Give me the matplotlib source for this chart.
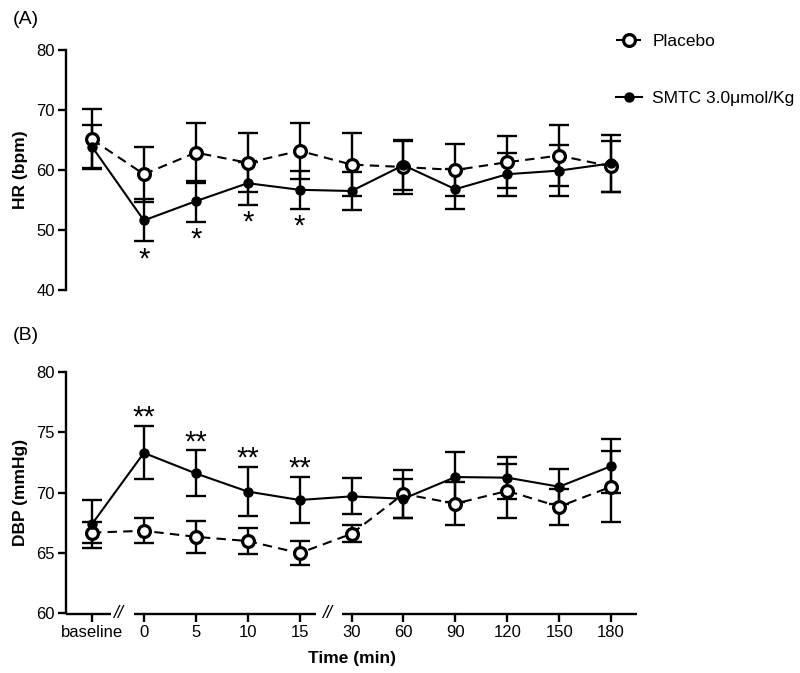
import matplotlib
matplotlib.use("Agg")
import matplotlib.pyplot as plt
import matplotlib.transforms as mtransforms
from matplotlib.lines import Line2D

plt.rcParams['font.family'] = ['Liberation Sans', 'DejaVu Sans']

# ---------------- data ----------------
time_labels = ["baseline", "0", "5", "10", "15", "30", "60", "90", "120", "150", "180"]

hr_placebo = [65.1, 59.3, 62.9, 61.2, 63.2, 60.9, 60.5, 60.0, 61.3, 62.4, 60.6]
hr_placebo_err = [5.0, 4.6, 5.0, 4.9, 4.7, 5.3, 4.5, 4.4, 4.3, 5.1, 4.2]
hr_smtc = [63.9, 51.6, 54.8, 57.8, 56.7, 56.5, 60.8, 56.8, 59.3, 59.9, 61.1]
hr_smtc_err = [3.6, 3.5, 3.4, 3.6, 3.2, 3.2, 4.1, 3.3, 3.6, 4.2, 4.7]
hr_sig = ["", "*", "*", "*", "*", "", "", "", "", "", ""]

dbp_placebo = [66.7, 66.85, 66.35, 66.0, 65.0, 66.6, 69.9, 69.1, 70.15, 68.85, 70.5]
dbp_placebo_err = [0.9, 1.05, 1.3, 1.05, 1.0, 0.7, 2.0, 1.8, 2.2, 1.5, 2.95]
dbp_smtc = [67.4, 73.3, 71.6, 70.1, 69.4, 69.7, 69.5, 71.3, 71.25, 70.5, 72.2]
dbp_smtc_err = [2.0, 2.2, 1.9, 2.0, 1.9, 1.5, 1.6, 2.05, 1.75, 1.45, 2.25]
dbp_sig = ["", "**", "**", "**", "**", "", "", "", "", "", ""]

x = list(range(len(time_labels)))

W, H = 800, 673
fig = plt.figure(figsize=(W / 100, H / 100), dpi=100)

ax_left = 66 / W
ax_w = (637 - 66) / W
axA = fig.add_axes([ax_left, 1 - 290 / H, ax_w, (290 - 50) / H])
axB = fig.add_axes([ax_left, 1 - 613.5 / H, ax_w, (613.5 - 372) / H])

LW = 1.7
DLW = 1.5
FS = 12

def draw(ax, pl, ple, sm, sme):
    ax.errorbar(x, pl, yerr=ple, fmt='none', ecolor='black', elinewidth=LW,
                capsize=7, capthick=LW, zorder=3)
    ax.errorbar(x, sm, yerr=sme, fmt='none', ecolor='black', elinewidth=LW,
                capsize=7, capthick=LW, zorder=3)
    ax.plot(x, pl, color='black', lw=DLW, linestyle=(0, (4.5, 3)), marker='o',
            markersize=8.5, markerfacecolor='white', markeredgecolor='black',
            markeredgewidth=2.3, zorder=4)
    ax.plot(x, sm, color='black', lw=DLW, linestyle='-', marker='o',
            markersize=6.5, markerfacecolor='black', markeredgecolor='black',
            zorder=5)

draw(axA, hr_placebo, hr_placebo_err, hr_smtc, hr_smtc_err)
draw(axB, dbp_placebo, dbp_placebo_err, dbp_smtc, dbp_smtc_err)

for ax in (axA, axB):
    ax.set_xlim(-0.5, 10.5)
    for s in ('top', 'right'):
        ax.spines[s].set_visible(False)
    ax.spines['left'].set_linewidth(LW)
    ax.tick_params(axis='y', direction='out', length=6, width=LW, labelsize=FS, pad=2)

# Panel A
axA.set_ylim(40, 80)
axA.set_yticks([40, 50, 60, 70, 80])
axA.spines['bottom'].set_visible(False)
axA.set_xticks([])
axA.set_ylabel("HR (bpm)", fontsize=12.5, fontweight='bold')
axA.yaxis.set_label_coords(-0.0665, 0.5)
for xi, lo, s in zip(x, [a - b for a, b in zip(hr_smtc, hr_smtc_err)], hr_sig):
    if s:
        axA.annotate(s, (xi, lo), xytext=(0, -13), textcoords='offset points',
                     ha='center', va='center', fontsize=21)

# Panel B
axB.set_ylim(60, 80)
axB.set_yticks([60, 65, 70, 75, 80])
axB.spines['bottom'].set_visible(False)
axB.set_xticks(x)
axB.set_xticklabels(time_labels)
axB.tick_params(axis='x', direction='out', length=6, width=LW, labelsize=FS, pad=2)
axB.set_xlabel("Time (min)", fontsize=12.5, fontweight='bold', labelpad=8)
axB.set_ylabel("DBP (mmHg)", fontsize=12.5, fontweight='bold')
axB.yaxis.set_label_coords(-0.0665, 0.5)
for xi, hi, s in zip(x, [a + b for a, b in zip(dbp_smtc, dbp_smtc_err)], dbp_sig):
    if s:
        axB.annotate(s, (xi, hi), xytext=(0, 6), textcoords='offset points',
                     ha='center', va='center', fontsize=21)

# broken x axis
trans = mtransforms.blended_transform_factory(axB.transData, axB.transAxes)
segments = [(-0.5, 0.37), (0.81, 4.32), (4.82, 10.5)]
for a, b in segments:
    axB.plot([a, b], [0, 0], color='black', lw=LW, transform=trans,
             clip_on=False, solid_capstyle='butt', zorder=6)
for bx in (0.5, 4.52):
    axB.text(bx, 0, "//", transform=trans, ha='center', va='center',
             fontsize=13, fontstyle='italic', clip_on=False)

# panel labels
fig.text(13 / W, 1 - 20 / H, "(A)", fontsize=14, ha='left', va='center')
fig.text(13 / W, 1 - 335 / H, "(B)", fontsize=14, ha='left', va='center')

# legend
h1 = Line2D([], [], color='black', lw=DLW, linestyle=(0, (4.5, 3)), marker='o',
            markersize=8.5, markerfacecolor='white', markeredgecolor='black',
            markeredgewidth=2.3)
h2 = Line2D([], [], color='black', lw=DLW, linestyle='-', marker='o',
            markersize=6.5, markerfacecolor='black')
fig.legend([h1, h2], ["Placebo", "SMTC 3.0\u03bcmol/Kg"], loc='upper left',
           bbox_to_anchor=(616 / W, 1 - 34 / H), frameon=False, fontsize=12.5,
           handlelength=1.5, handletextpad=0.6, labelspacing=2.4, borderpad=0,
           borderaxespad=0)

fig.savefig("out.png", dpi=100)
